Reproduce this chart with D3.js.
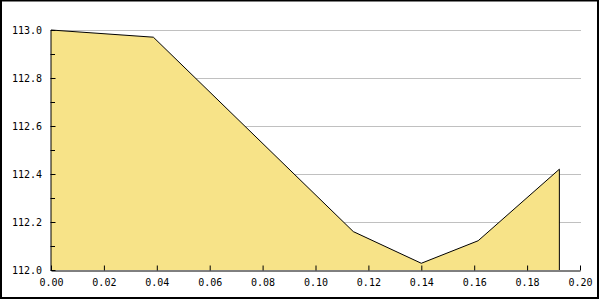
<!DOCTYPE html>
<html>
<head>
<meta charset="utf-8">
<script src="https://cdn.jsdelivr.net/npm/d3@7"></script>
<style>
  body { margin: 0; background: #fff; }
  text { font-family: "DejaVu Sans Mono", monospace; font-size: 10px; fill: #000; }
</style>
</head>
<body>
<div id="container"></div>
<script>
/* Data */
var xValues = [0.000, 0.0387, 0.1143, 0.1400, 0.1615, 0.1922];
var yValues = [113.00, 112.970, 112.160, 112.028, 112.122, 112.420];
var xTicks = [0, 0.02, 0.04, 0.06, 0.08, 0.10, 0.12, 0.14, 0.16, 0.18, 0.20];
var yTicks = [112.0, 112.2, 112.4, 112.6, 112.8, 113.0];
var yMinorTicks = [112.1, 112.3, 112.5, 112.7, 112.9];

var dataset = xValues.map((x, i) => ({x: x, y: yValues[i]}));

var w = 600, h = 300;
var margin = {top: 30, right: 20, bottom: 30, left: 51};
var plotWidth = w - margin.left - margin.right,   // 529
	plotHeight = h - margin.top - margin.bottom;  // 240

var svg = d3.select('#container').append('svg')
	.attr('width', w)
	.attr('height', h);

/* Border */
svg.append('rect')
	.attr('x', 1).attr('y', 0.5)
	.attr('width', 597).attr('height', 297.5)
	.attr('fill', 'none')
	.attr('stroke', '#000')
	.attr('stroke-width', 2);

var g = svg.append('g')
	.attr('transform', 'translate(' + margin.left + ',' + margin.top + ')');

/* Scales */
var xScale = d3.scaleLinear().domain([0, 0.2]).range([0, plotWidth]),
	yScale = d3.scaleLinear().domain([112, 113]).range([plotHeight, 0]);

/* Grid lines */
g.append('g')
	.selectAll('line')
	.data(yTicks.slice(1))
	.enter().append('line')
	.attr('x1', 0)
	.attr('x2', plotWidth + 1)
	.attr('y1', d => Math.round(yScale(d)) + 0.5)
	.attr('y2', d => Math.round(yScale(d)) + 0.5)
	.attr('stroke', '#c0c0c0')
	.attr('stroke-width', 1);

/* Area */
var area = d3.area()
	.x(d => xScale(d.x))
	.y0(plotHeight)
	.y1(d => yScale(d.y));

g.append('path')
	.attr('d', area(dataset))
	.attr('fill', '#f7e388')
	.attr('stroke', 'none');

var line = d3.line()
	.x(d => xScale(d.x))
	.y(d => yScale(d.y));

var last = dataset[dataset.length - 1];
g.append('path')
	.attr('d', line(dataset.concat([{x: last.x, y: 112}])))
	.attr('fill', 'none')
	.attr('stroke', '#000')
	.attr('stroke-width', 1);

/* Y Axis */
var yAxis = d3.axisLeft(yScale)
	.tickValues(yTicks)
	.tickFormat(d3.format('.1f'))
	.tickSizeInner(-5)
	.tickSizeOuter(0)
	.tickPadding(8.5);

g.append('g')
	.attr('transform', 'translate(-0.5,0)')
	.call(yAxis);

g.append('g')
	.selectAll('line')
	.data(yMinorTicks)
	.enter().append('line')
	.attr('x1', -0.5)
	.attr('x2', 4)
	.attr('y1', d => Math.round(yScale(d)) + 0.5)
	.attr('y2', d => Math.round(yScale(d)) + 0.5)
	.attr('stroke', '#000');

/* X Axis */
var xAxis = d3.axisBottom(xScale)
	.tickValues(xTicks)
	.tickFormat(d3.format('.2f'))
	.tickSizeInner(-5)
	.tickSizeOuter(0)
	.tickPadding(8);

g.append('g')
	.attr('transform', 'translate(0,' + (plotHeight + 0.5) + ')')
	.call(xAxis);

svg.selectAll('.domain').attr('stroke', '#000').attr('stroke-width', 1);
svg.selectAll('.tick line').attr('stroke', '#000');
svg.selectAll('.tick text').attr('fill', '#000');
</script>
</body>
</html>
